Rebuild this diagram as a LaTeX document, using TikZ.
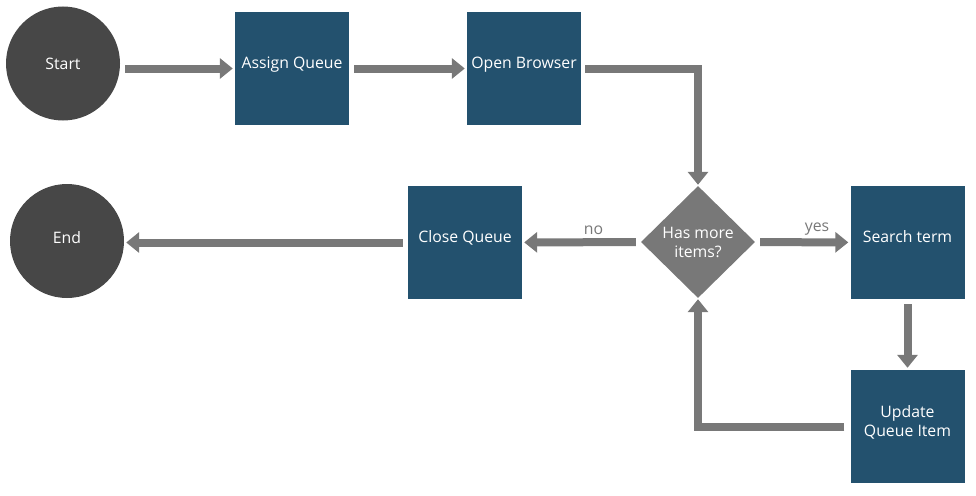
\documentclass[tikz,border=0pt]{standalone}
\usepackage{fontspec}
\setmainfont{Open Sans}
\usetikzlibrary{arrows.meta,shapes.geometric}
\definecolor{boxblue}{HTML}{23516E}
\definecolor{termgray}{HTML}{474747}
\definecolor{flowgray}{HTML}{787878}
\begin{document}
\begin{tikzpicture}[x=1pt,y=-1pt,
  every node/.style={font=\fontsize{15.8}{19}\selectfont},
  terminal/.style={circle,fill=termgray,text=white,minimum size=114pt,inner sep=0pt},
  task/.style={rectangle,fill=boxblue,text=white,minimum width=114pt,minimum height=113pt,
    inner sep=0pt,align=center,text depth=12pt},
  choice/.style={diamond,fill=flowgray,text=white,minimum width=114pt,minimum height=112pt,
    inner sep=0pt,align=center},
  flow/.style={draw=flowgray,line width=8pt,-{Triangle[length=13pt,width=20pt]},
    shorten <=5pt,shorten >=2pt},
  tag/.style={text=flowgray,above=0pt}]

\useasboundingbox (0,0) rectangle (976,495);

\node [terminal] (start) at (63,63.5) {Start};
\node [task] (assign) at (292,68.5) {Assign Queue};
\node [task] (browser) at (524,68.5) {Open Browser};
\node [choice] (has) at (698,242) {Has more\\items?};
\node [task] (search) at (907.5,242.5) {Search term};
\node [task] (update) at (907.5,426.5) {Update\\Queue Item};
\node [task] (close) at (465,242.5) {Close Queue};
\node [terminal,text depth=8pt] (end) at (67,241) {End};

\draw [flow] (start.east |- assign) -- (assign);
\draw [flow] (assign) -- (browser);
\draw [flow,shorten <=4pt,shorten >=1pt] (browser.east) -| (has.north);
\draw [flow] (has) -- (search) node [tag,pos=0.65] {yes};
\draw [flow] (search) -- (update);
\draw [flow,shorten <=6pt,shorten >=1pt] (update.west) -| (has.south);
\draw [flow] (has) -- (close) node [tag,pos=0.4] {no};
\draw [flow] (close) -- (end.east |- close);

\end{tikzpicture}
\end{document}
